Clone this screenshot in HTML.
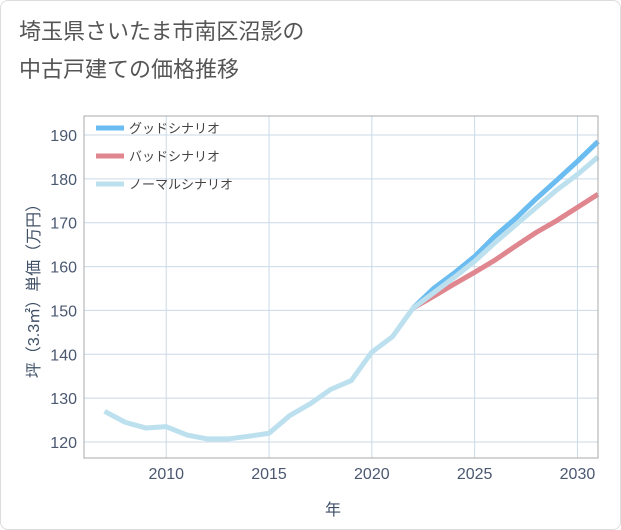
<!DOCTYPE html>
<html><head><meta charset="utf-8"><style>
body{margin:0;background:#fff;}
#c{position:relative;width:621px;height:530px;border:1px solid #ddd;box-sizing:border-box;border-radius:8px;overflow:hidden;font-family:"Liberation Sans","Noto Sans CJK JP",sans-serif;}
</style></head><body>
<div id="c">
<svg id="s" width="621" height="530">
<text x="18" y="38" font-size="22" fill="#555" font-family="Liberation Sans,Noto Sans CJK JP,sans-serif">埼玉県さいたま市南区沼影の</text>
<text x="18" y="76" font-size="22" fill="#555" font-family="Liberation Sans,Noto Sans CJK JP,sans-serif">中古戸建ての価格推移</text>
<g id="grid"></g><g id="lines"></g><g id="axes"></g>
<text x="332" y="514" font-size="16" fill="#3f4f66" text-anchor="middle" font-family="Liberation Sans,Noto Sans CJK JP,sans-serif">年</text>
<text transform="translate(38,286) rotate(-90)" font-size="16" fill="#3f4f66" text-anchor="middle" font-family="Liberation Sans,Noto Sans CJK JP,sans-serif">坪（3.3㎡）単価（万円）</text>
<g id="legend"></g>
</svg></div>
<script>
const histYears=[2007,2008,2009,2010,2011,2012,2013,2014,2015,2016,2017,2018,2019,2020,2021,2022];
const histValues=[127,124.5,123.2,123.5,121.6,120.7,120.7,121.3,122,126,128.7,132,134,140.5,144,150.5];
const futYears=[2022,2023,2024,2025,2026,2027,2028,2029,2030,2031];
const goodValues=[150.5,155,158.5,162.3,167,171,175.5,179.7,184,188.5];
const badValues=[150.5,153.2,156,158.7,161.5,164.7,167.8,170.5,173.5,176.5];
const normalValues=[150.5,154,157.5,161.2,165.5,169.5,173.5,177.5,181,185];
const xTicks=[2010,2015,2020,2025,2030];
const yTicks=[120,130,140,150,160,170,180,190];
const legendLabels=["グッドシナリオ","バッドシナリオ","ノーマルシナリオ"];
const L=83,R=597,T=115,B=457;
const X=v=>L+(v-2006)*(R-L)/25;
const Y=v=>441-(v-120)*(441-134)/70;
const NS="http://www.w3.org/2000/svg";
function mk(tag,attrs,parent){const e=document.createElementNS(NS,tag);for(const k in attrs)e.setAttribute(k,attrs[k]);document.getElementById(parent).appendChild(e);return e;}
let r=mk('rect',{x:L,y:T,width:R-L,height:B-T,fill:'none',stroke:'#aaa'},'axes');


xTicks.forEach(t=>{
 let g=mk('line',{x1:X(t),x2:X(t),y1:T,y2:B,stroke:'#cbd9e6','stroke-width':1},'grid');
 
 
 let tx=mk('text',{x:X(t),y:478,'font-size':16,fill:'#4a5870','text-anchor':'middle'},'axes');tx.textContent=t;
 
 
});
yTicks.forEach(t=>{
 let g=mk('line',{x1:L,x2:R,y1:Y(t),y2:Y(t),stroke:'#cbd9e6','stroke-width':1},'grid');
 
 
 let tx=mk('text',{x:76,y:Y(t)+6,'font-size':16,fill:'#4a5870','text-anchor':'end'},'axes');tx.textContent=t;
 
 
});
function pts(xs,ys){return xs.map((x,i)=>X(x)+','+Y(ys[i])).join(' ');}
let p;
p=mk('polyline',{points:pts(futYears,badValues),fill:'none',stroke:'#e0868f','stroke-width':5,'stroke-linejoin':'round'},'lines');


p=mk('polyline',{points:pts(futYears,goodValues),fill:'none',stroke:'#6bbcf0','stroke-width':5,'stroke-linejoin':'round'},'lines');


p=mk('polyline',{points:pts(futYears,normalValues),fill:'none',stroke:'#bde0ef','stroke-width':5,'stroke-linejoin':'round'},'lines');


p=mk('polyline',{points:pts(histYears,histValues),fill:'none',stroke:'#bde0ef','stroke-width':5,'stroke-linejoin':'round'},'lines');


const cols=['#6bbcf0','#e0868f','#bde0ef'];
legendLabels.forEach((lab,i)=>{
 let y=127+i*28;
 let l=mk('line',{x1:95,x2:123,y1:y,y2:y,stroke:cols[i],'stroke-width':5},'legend');
 
 
 let t=mk('text',{x:128,y:y+5,'font-size':13,fill:'#444','font-family':'Liberation Sans,Noto Sans CJK JP,sans-serif'},'legend');t.textContent=lab;
 
 
});
</script></body></html>
